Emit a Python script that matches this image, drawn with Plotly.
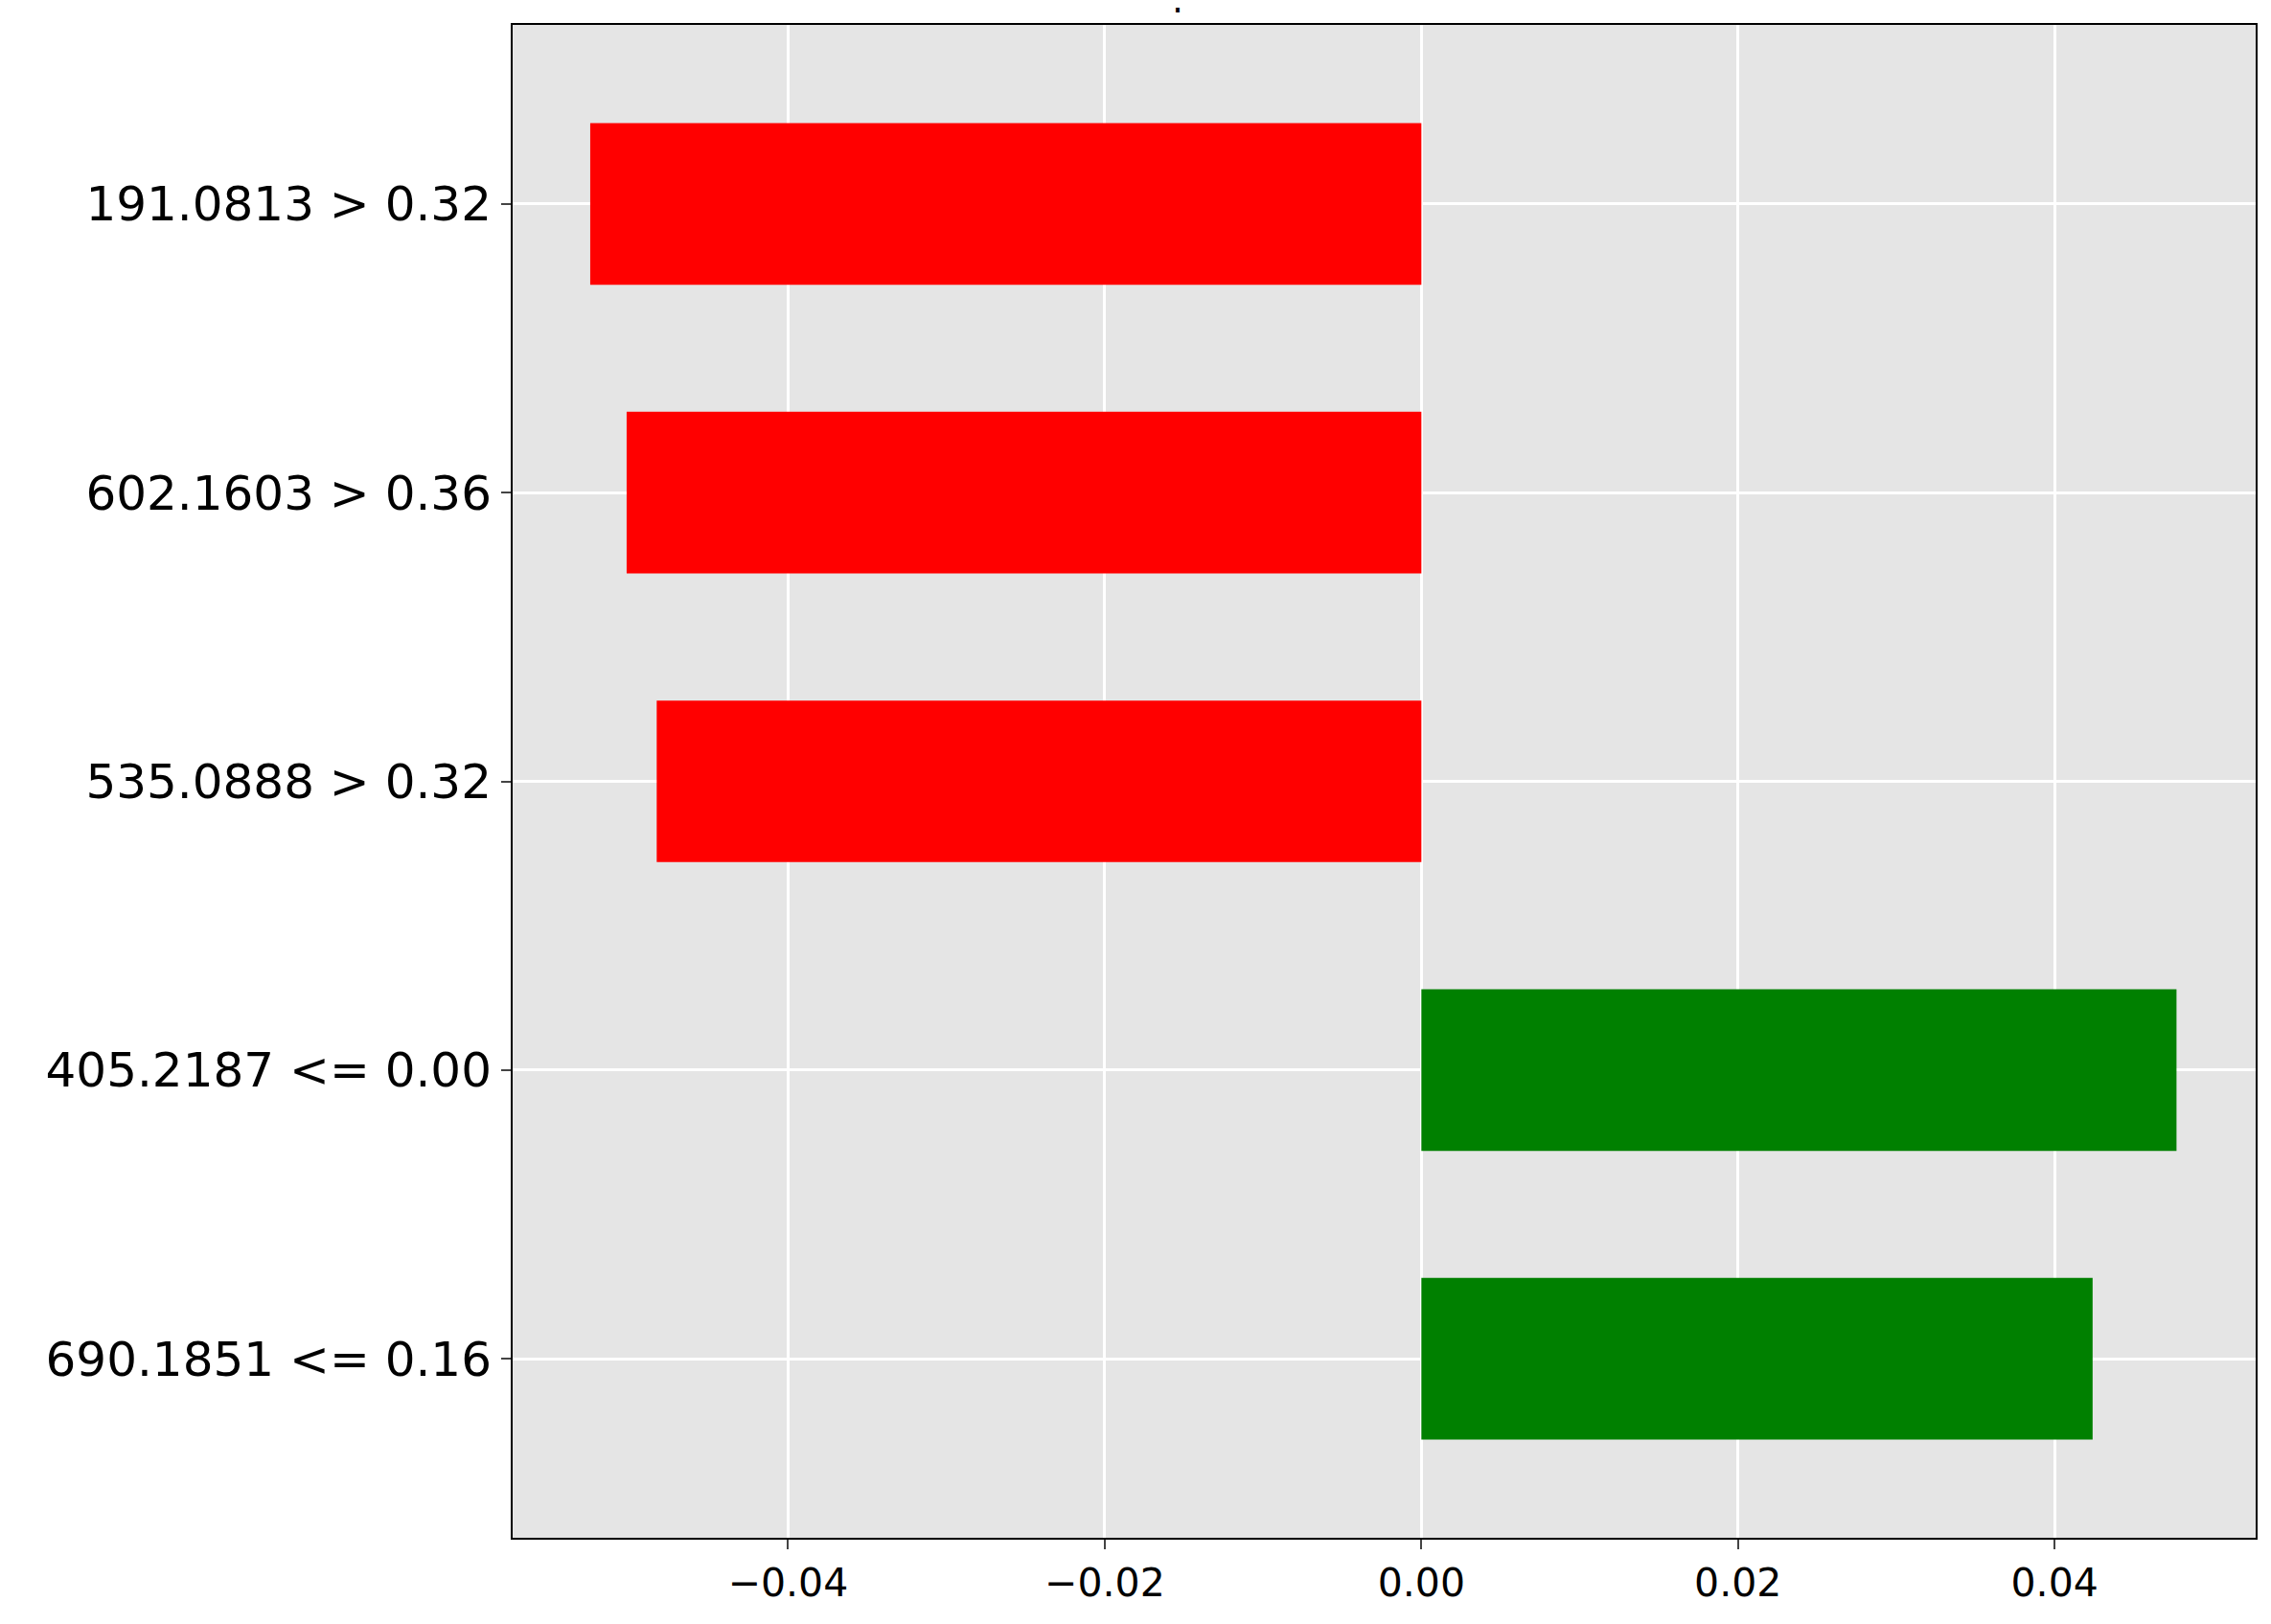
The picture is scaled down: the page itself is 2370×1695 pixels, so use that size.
import plotly.graph_objects as go

labels = ["690.1851 <= 0.16", "405.2187 <= 0.00", "535.0888 > 0.32", "602.1603 > 0.36", "191.0813 > 0.32"]
values = [0.0424, 0.0477, -0.0483, -0.0502, -0.0525]
colors = ["green" if v > 0 else "red" for v in values]
xticks = [-0.04, -0.02, 0.0, 0.02, 0.04]

fig = go.Figure(go.Bar(x=values, y=list(range(len(labels))), orientation="h",
                       marker=dict(color=colors, line=dict(width=0)), width=0.56))
fig.update_layout(
    width=2370, height=1695, paper_bgcolor="white", plot_bgcolor="#e5e5e5",
    margin=dict(l=527, r=24, t=18, b=98), showlegend=False,
    font=dict(family="DejaVu Sans", color="black"),
    annotations=[dict(text="Local explanation", xref="paper", yref="paper", x=0.385, y=1,
                      xanchor="center", yanchor="bottom", yshift=10, showarrow=False,
                      font=dict(size=42, family="DejaVu Sans"))],
)
fig.update_xaxes(range=[-0.0574, 0.0527], tickvals=xticks,
                 ticktext=["\u22120.04", "\u22120.02", "0.00", "0.02", "0.04"],
                 showgrid=True, gridcolor="white", gridwidth=3, zeroline=False,
                 showline=True, linecolor="black", linewidth=2, mirror=True,
                 ticks="outside", ticklen=10, tickwidth=2, tickfont=dict(size=41))
fig.update_yaxes(range=[-0.62, 4.62], tickvals=list(range(len(labels))), ticktext=labels,
                 showgrid=True, gridcolor="white", gridwidth=3, zeroline=False,
                 showline=True, linecolor="black", linewidth=2, mirror=True,
                 ticks="outside", ticklen=10, tickwidth=2, tickfont=dict(size=50))
fig.write_html("out.html")
